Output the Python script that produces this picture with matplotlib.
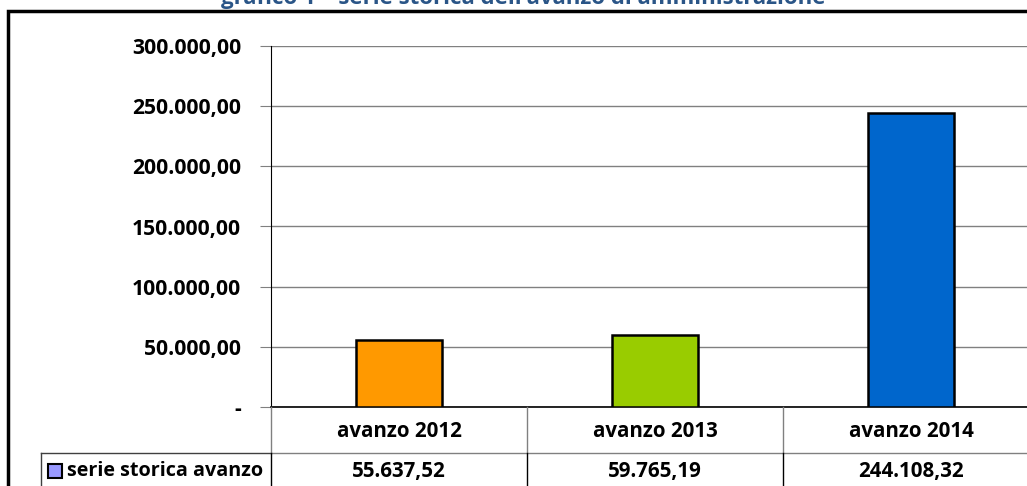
import matplotlib.pyplot as plt
from matplotlib.patches import Rectangle
from matplotlib.ticker import FuncFormatter

categories = ['avanzo 2012', 'avanzo 2013', 'avanzo 2014']
values = [55637.52, 59765.19, 244108.32]
bar_colors = ['#FF9900', '#99CC00', '#0066CC']
yticks = [0, 50000, 100000, 150000, 200000, 250000, 300000]
series_name = 'serie storica avanzo'
title = "grafico 1 \u2013 serie storica dell'avanzo di amministrazione"

plt.rcParams['font.family'] = ['Open Sans', 'DejaVu Sans']
plt.rcParams['font.weight'] = 'bold'

W, H = 1027, 486
FS = 14.8


def it_fmt(v):
    s = f"{v:,.2f}"
    return s.replace(',', 'X').replace('.', ',').replace('X', '.')


def fx(px):
    return px / W


def fy(py):
    return 1 - py / H


fig = plt.figure(figsize=(W / 100, H / 100), dpi=100)

# outer frame of the chart object
fig.patches.append(Rectangle((fx(8), fy(700)), fx(1100), fy(11) - fy(700),
                             transform=fig.transFigure, fill=False,
                             edgecolor='black', linewidth=2.5))

fig.text(fx(523), fy(4), title, ha='center', va='baseline',
         color='#2A5587', fontsize=16, fontweight='bold')

ax = fig.add_axes([fx(271), fy(407), fx(1039) - fx(271), fy(46) - fy(407)])
x = list(range(len(categories)))
ax.bar(x, values, width=0.336, color=bar_colors, edgecolor='black',
       linewidth=1.8, zorder=3)
ax.set_xlim(-0.5, len(categories) - 0.5)
ax.set_ylim(0, 300000)
ax.set_yticks(yticks)
ax.yaxis.set_major_formatter(FuncFormatter(lambda v, p: '-' if v == 0 else it_fmt(v)))
ax.grid(axis='y', color='#808080', linewidth=1, zorder=0)
ax.tick_params(axis='y', length=8, color='#808080', labelsize=15.2, pad=13.5)
for lbl in ax.get_yticklabels():
    lbl.set_fontweight('bold')
ax.set_xticks([])
for s in ['top', 'right']:
    ax.spines[s].set_visible(False)
ax.spines['left'].set_color('black')
ax.spines['bottom'].set_color('black')
ax.spines['bottom'].set_linewidth(1.2)

# data table below the axes
tr = fig.transFigure
row1_top, row2_top, row_bot = 407, 453, 500
grid_kw = dict(transform=tr, clip_on=False)
fig.add_artist(plt.Line2D([fx(271), fx(1100)], [fy(row2_top)] * 2, color='#808080', lw=1, **grid_kw))
fig.add_artist(plt.Line2D([fx(41), fx(271)], [fy(row2_top)] * 2, color='#404040', lw=1, **grid_kw))
fig.add_artist(plt.Line2D([fx(41), fx(41)], [fy(row2_top), fy(row_bot)], color='#404040', lw=1, **grid_kw))
col_w = (1039 - 271) / len(categories)
for i in range(len(categories) + 1):
    xpx = 271 + i * col_w
    fig.add_artist(plt.Line2D([fx(xpx)] * 2, [fy(row1_top), fy(row2_top)], color='#808080', lw=1, **grid_kw))
    fig.add_artist(plt.Line2D([fx(xpx)] * 2, [fy(row2_top), fy(row_bot)], color='black', lw=1, **grid_kw))
for i, (cat, v) in enumerate(zip(categories, values)):
    xc = 271 + (i + 0.5) * col_w
    fig.text(fx(xc), fy(431), cat, ha='center', va='center', fontsize=FS, fontweight='bold')
    fig.text(fx(xc), fy(471), it_fmt(v), ha='center', va='center', fontsize=FS, fontweight='bold')

fig.patches.append(Rectangle((fx(48), fy(478)), fx(14), fy(464) - fy(478),
                             transform=tr, facecolor='#9999FF', edgecolor='black', linewidth=1.5))
fig.text(fx(67), fy(471), series_name, ha='left', va='center', fontsize=14.2, fontweight='bold')

fig.savefig('out.png', dpi=100)
